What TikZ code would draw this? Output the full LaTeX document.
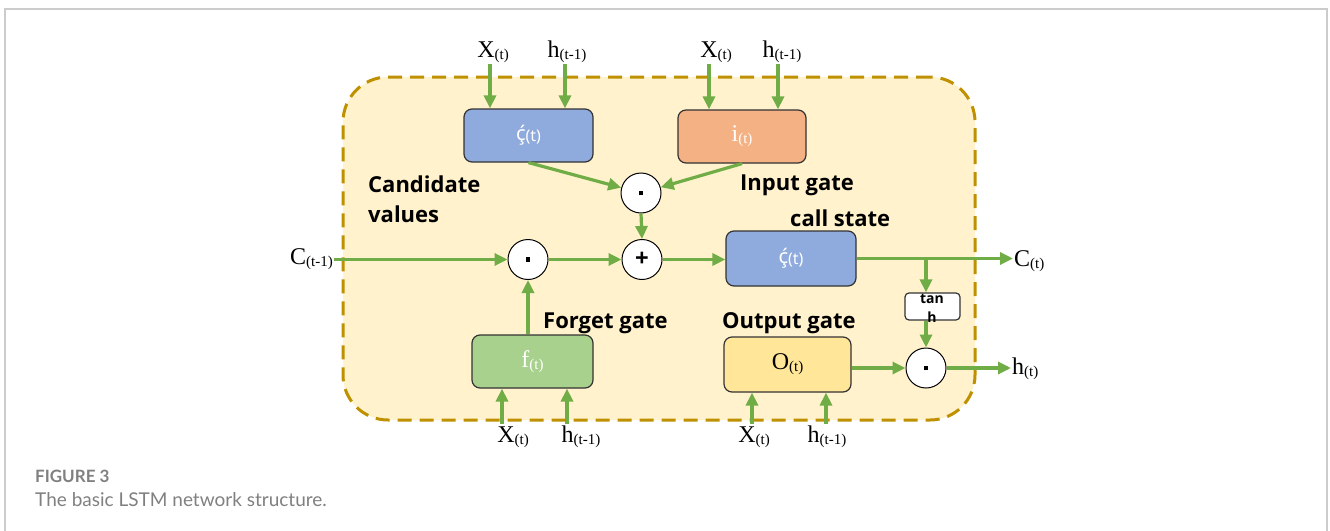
\documentclass[tikz,border=0pt]{standalone}
\usepackage{fontspec}
\setmainfont{Liberation Serif}
\setsansfont{Open Sans}
\newfontfamily\capfont{Lato}
\newfontfamily\cfont{Noto Sans}
\usetikzlibrary{arrows.meta}
\definecolor{flowgreen}{HTML}{70AD47}
\definecolor{framegold}{HTML}{BF9000}
\definecolor{framebg}{HTML}{FFF2CC}
\definecolor{boxblue}{HTML}{8FAADC}
\definecolor{boxorange}{HTML}{F4B183}
\definecolor{boxgreen}{HTML}{A9D18E}
\definecolor{boxyellow}{HTML}{FFE699}
\definecolor{capgray}{HTML}{808080}
\definecolor{outergray}{HTML}{CCCCCC}
\newcommand\sbs[1]{\raisebox{-0.08em}{\fontsize{15}{15}\selectfont #1}}
\newcommand\ssbs[1]{\raisebox{-0.05em}{\fontsize{16}{16}\selectfont #1}}
\begin{document}
\begin{tikzpicture}[x=1pt,y=-1pt,
  flow/.style={draw=flowgreen, line width=3.2pt, -{Triangle[length=13pt,width=12pt]}},
  gatebox/.style={draw=black!80, line width=1.2pt, rounded corners=8pt, inner sep=0pt},
  op/.style={circle, draw=black, line width=1pt, fill=white, minimum size=40pt, inner sep=0pt,
    font=\sffamily\bfseries\fontsize{24}{24}\selectfont},
  lbl/.style={font=\sffamily\bfseries\fontsize{22}{30}\selectfont, inner sep=0pt, align=left},
  var/.style={font=\fontsize{24}{24}\selectfont, inner sep=1pt},
  boxtxt/.style={font=\fontsize{24}{24}\selectfont, text=white},
  sboxtxt/.style={font=\cfont\fontsize{20}{20}\selectfont, text=white}
]
\useasboundingbox (0,0) rectangle (1330,530);
\draw[outergray, line width=1.5pt] (5,540) -- (5,9) -- (1327,9) -- (1327,540);

% container
\node (cellframe) [draw=framegold, fill=framebg, line width=3pt, dash pattern=on 14pt off 8pt,
  rounded corners=45pt, minimum width=632pt, minimum height=343pt] at (659,248.5) {};

% gate boxes
\node (cbox) [gatebox, fill=boxblue, minimum width=129pt, minimum height=53pt, sboxtxt] at (528.5,135.5) {ḉ\ssbs{(t)}};
\node (ibox) [gatebox, fill=boxorange, minimum width=128pt, minimum height=53pt, boxtxt] at (742,136.5) {i\sbs{(t)}};
\node (cell) [gatebox, fill=boxblue, minimum width=130pt, minimum height=55pt, sboxtxt] at (791,258.5) {ḉ\ssbs{(t)}};
\node (fbox) [gatebox, fill=boxgreen, minimum width=121pt, minimum height=53pt, boxtxt] at (532.5,361.5) {f\sbs{(t)}};
\node (obox) [gatebox, fill=boxyellow, minimum width=127pt, minimum height=55pt, boxtxt, text=black] at (787.5,364.5) {O\sbs{(t)}};
\node (tanh) [draw=black!80, fill=white, line width=1.2pt, rounded corners=4pt, minimum width=55pt, minimum height=27pt, inner sep=0pt] at (932.5,306.5) {};
\node (tanhtxt) [font=\sffamily\bfseries\fontsize{14}{19}\selectfont, align=center, inner sep=0pt] at (932,308) {tan\\h};

% operators
\node (m1) [op] at (641,193) {\rule{4.5pt}{4.5pt}};
\node (plus) [op] at (642,259.5) {+};
\node (m2) [op] at (528,259.5) {\rule{4.5pt}{4.5pt}};
\node (m3) [op] at (926,368) {\rule{4.5pt}{4.5pt}};

% labels
\node (candlbl) [lbl, anchor=north west] at (368,176) {Candidate\\values};
\node (inlbl) [lbl, anchor=west] at (740,185) {Input gate};
\node (celllbl) [lbl, anchor=west] at (790,218) {call state};
\node (forlbl) [lbl, anchor=west] at (543,323) {Forget gate};
\node (outlbl) [lbl, anchor=west] at (722,323) {Output gate};

% variables
\node (x1) [var] at (493,52) {X\sbs{(t)}};
\node (h1) [var] at (567,52) {h\sbs{(t-1)}};
\node (x2) [var] at (716,52) {X\sbs{(t)}};
\node (h2) [var] at (782,52) {h\sbs{(t-1)}};
\node (x3) [var] at (513,437) {X\sbs{(t)}};
\node (h3) [var] at (581,437) {h\sbs{(t-1)}};
\node (x4) [var] at (754,437) {X\sbs{(t)}};
\node (h4) [var] at (827,437) {h\sbs{(t-1)}};
\node (cprev) [var, anchor=east] at (334,259.5) {C\sbs{(t-1)}};
\node (cnext) [var, anchor=west] at (1013,261) {C\sbs{(t)}};
\node (hnext) [var, anchor=west] at (1011,369) {h\sbs{(t)}};

% input arrow start points
\coordinate (sx1) at (490,64);
\coordinate (sh1) at (565,64);
\coordinate (sx2) at (709,64);
\coordinate (sh2) at (778,64);
\coordinate (sx3) at (502,424);
\coordinate (sh3) at (567,424);
\coordinate (sx4) at (752,424);
\coordinate (sh4) at (826,424);

\draw[flow] (sx1) -- (sx1 |- cbox.north);
\draw[flow] (sh1) -- (sh1 |- cbox.north);
\draw[flow] (sx2) -- (sx2 |- ibox.north);
\draw[flow] (sh2) -- (sh2 |- ibox.north);
\draw[flow] (sx3) -- (sx3 |- fbox.south);
\draw[flow] (sh3) -- (sh3 |- fbox.south);
\draw[flow] (sx4) -- (sx4 |- obox.south);
\draw[flow] (sh4) -- (sh4 |- obox.south);

% internal flows
\draw[flow] (cbox.south) -- (m1);
\draw[flow] (ibox.south) -- (m1);
\draw[flow] (m1.south) -- (plus.north);
\draw[flow] (cprev.east |- m2) -- (m2.west);
\draw[flow] (m2.east) -- (plus.west);
\draw[flow] (plus.east) -- (plus.east -| cell.west);
\draw[flow] (m2 |- fbox.north) -- (m2.south);
\coordinate (cellout) at (cell.east);
\draw[flow] (cellout) -- (cellout -| cnext.west);
\coordinate (br) at (m3 |- cellout);
\draw[flow] (br) -- (br |- tanh.north);
\draw[flow] (m3 |- tanh.south) -- (m3.north);
\draw[flow] (obox.east |- m3) -- (m3.west);
\draw[flow] (m3.east) -- (m3.east -| hnext.west);

% caption
\node (figno) [anchor=base west, inner sep=0pt, text=capgray, font=\capfont\bfseries\fontsize{17}{17}\selectfont] at (35,482) {FIGURE 3};
\node (figcap) [anchor=base west, inner sep=0pt, text=capgray, font=\capfont\fontsize{19}{19}\selectfont] at (35,506) {The basic LSTM network structure.};
\end{tikzpicture}
\end{document}
